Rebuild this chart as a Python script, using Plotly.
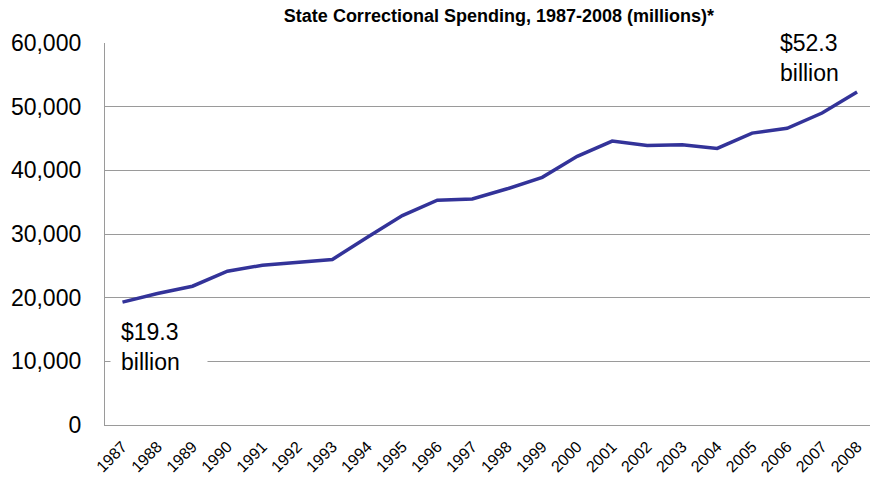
import plotly.graph_objects as go

# State correctional spending, millions of dollars
years = [str(y) for y in range(1987, 2009)]
spending = [19300, 20650, 21800, 24150, 25100, 25600, 26000, 29500, 32900, 35300,
            35500, 37100, 38900, 42200, 44600, 43900, 44000, 43450, 45850, 46600,
            49000, 52300]

y_ticks = [0, 10000, 20000, 30000, 40000, 50000, 60000]
y_ticktext = ["0", "10,000", "20,000", "30,000", "40,000", "50,000", "60,000"]

start_label = "$19.3<br>billion"
end_label = "$52.3<br>billion"

FONT = "Liberation Sans, Arial, sans-serif"
LINE_COLOR = "#333399"
GRID_COLOR = "#9a9a9a"

fig = go.Figure()
fig.add_trace(go.Scatter(
    x=list(range(len(years))), y=spending, mode="lines",
    line=dict(color=LINE_COLOR, width=3.5),
    hoverinfo="skip", showlegend=False,
))

fig.update_layout(
    width=870, height=480,
    margin=dict(l=105, r=0, t=43, b=55),
    paper_bgcolor="white", plot_bgcolor="white",
    font=dict(family=FONT, color="#000000"),
    title=dict(
        text="<b>State Correctional Spending, 1987-2008 (millions)*</b>",
        font=dict(family=FONT, size=18, color="#000000"),
        x=448 / 870, xanchor="center", xref="paper",
        y=1 - 16 / 480, yanchor="middle", yref="container",
    ),
)

fig.update_xaxes(
    range=[-0.5, 21.37],
    tickvals=list(range(len(years))), ticktext=years,
    showgrid=False, zeroline=False,
    showline=True, linecolor=GRID_COLOR, linewidth=1.3,
    ticks="", tickangle=-45,
    ticklabelstandoff=5,
    tickfont=dict(family=FONT, size=16, color="#000000"),
)

fig.update_yaxes(
    range=[0, 60000],
    tickvals=y_ticks, ticktext=y_ticktext,
    showgrid=True, gridcolor=GRID_COLOR, gridwidth=1.3,
    showline=True, linecolor=GRID_COLOR, linewidth=1.3,
    zeroline=False, ticks="",
    ticklabelstandoff=18,
    tickfont=dict(family=FONT, size=23, color="#000000"),
)

# Callouts at the first and last year; a white box breaks the gridline behind each
callouts = [(0, 10000, 12300, start_label, -12), (len(years) - 1, 60000, 57700, end_label, -88)]
for xi, grid_y, y_val, text, shift in callouts:
    fig.add_shape(
        type="rect", layer="between",
        xref="x", yref="y", xsizemode="pixel", ysizemode="pixel",
        xanchor=xi, yanchor=grid_y,
        x0=shift, x1=shift + 97, y0=-6, y1=6,
        fillcolor="white", line=dict(width=0),
    )
    fig.add_annotation(
        x=xi, y=y_val, xref="x", yref="y",
        text=text, showarrow=False,
        xanchor="left", yanchor="middle",
        xshift=shift + 9,
        align="left",
        font=dict(family=FONT, size=23, color="#000000"),
    )

fig.write_html("out.html")
